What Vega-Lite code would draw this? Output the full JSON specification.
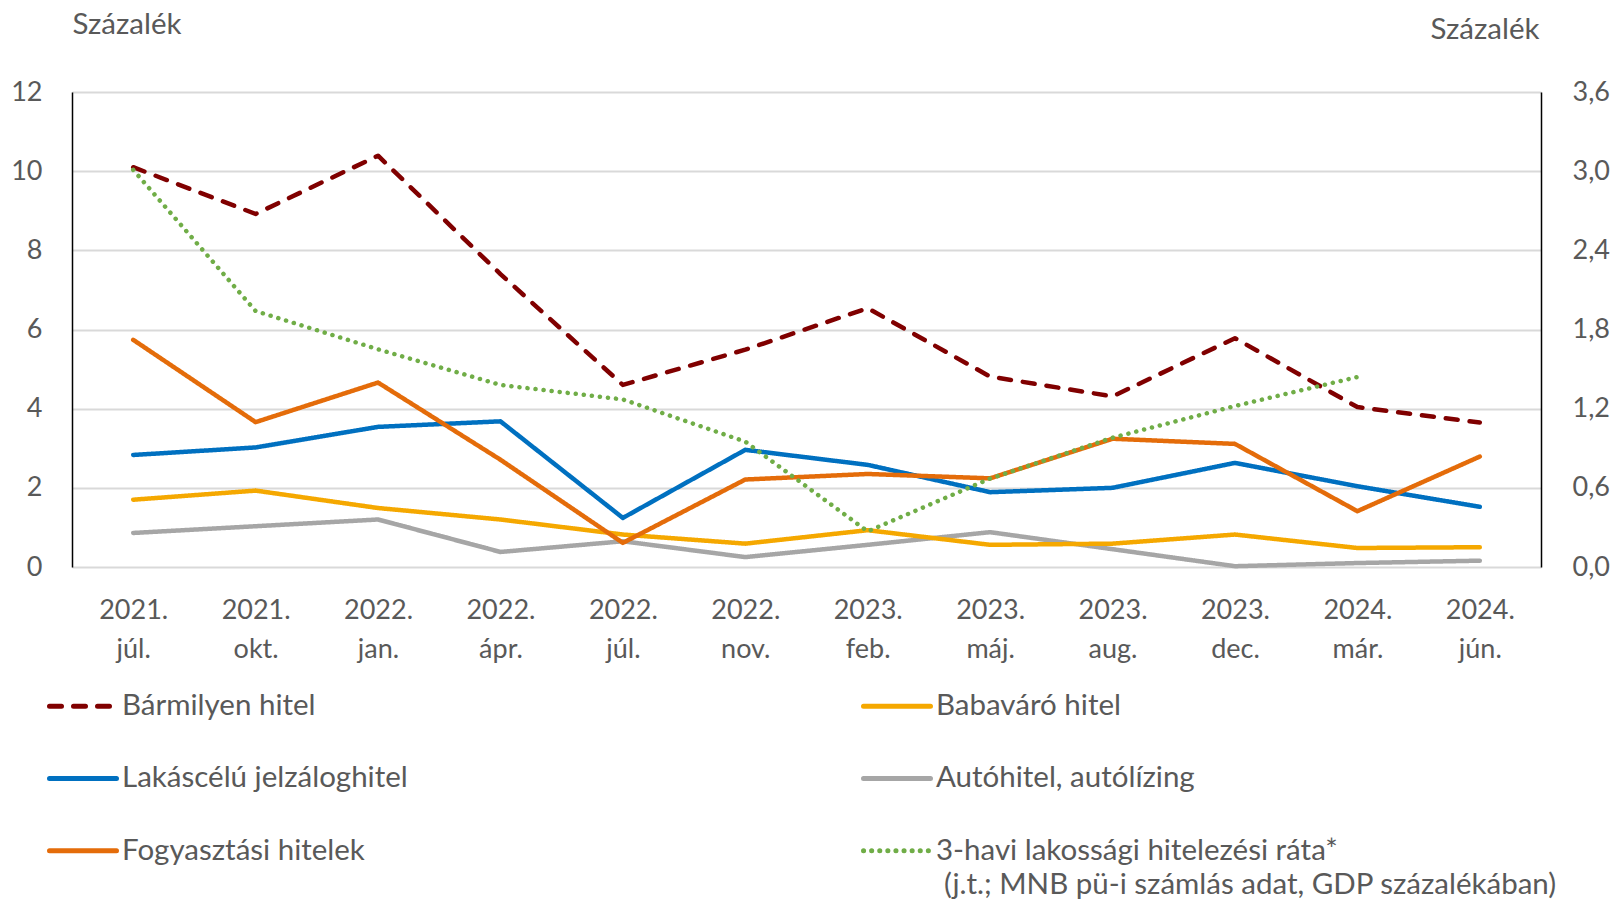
{
  "$schema": "https://vega.github.io/schema/vega-lite/v6.json",
  "width": 1469,
  "height": 475,
  "autosize": {"type": "none"},
  "padding": {"left": 72, "top": 92, "right": 73, "bottom": 335},
  "background": "white",
  "title": {
    "text": "(j.t.; MNB pü-i számlás adat, GDP százalékában)",
    "orient": "bottom",
    "anchor": "start",
    "frame": "group",
    "dx": 872,
    "offset": 5,
    "font": "Lato",
    "fontSize": 29.5,
    "fontWeight": "normal",
    "color": "#595959"
  },
  "config": {
    "view": {"stroke": null},
    "axis": {
      "labelFont": "Lato",
      "labelFontSize": 27,
      "labelColor": "#595959",
      "titleFont": "Lato",
      "titleFontSize": 29.5,
      "titleFontWeight": "normal",
      "titleColor": "#595959",
      "ticks": false
    },
    "legend": {
      "orient": "none",
      "legendX": -25,
      "legendY": 578,
      "columns": 2,
      "columnPadding": 445,
      "rowPadding": 21.4,
      "symbolType": "stroke",
      "symbolSize": 4489,
      "symbolStrokeWidth": 5,
      "labelFont": "Lato",
      "labelFontSize": 29.5,
      "labelColor": "#595959",
      "labelOffset": 3,
      "labelLimit": 800
    }
  },
  "data": {
    "values": [
      {"date": "2021.|júl.", "series": "Autóhitel, autólízing", "value": 0.86},
      {"date": "2021.|okt.", "series": "Autóhitel, autólízing", "value": 1.03},
      {"date": "2022.|jan.", "series": "Autóhitel, autólízing", "value": 1.2},
      {"date": "2022.|ápr.", "series": "Autóhitel, autólízing", "value": 0.38},
      {"date": "2022.|júl.", "series": "Autóhitel, autólízing", "value": 0.65},
      {"date": "2022.|nov.", "series": "Autóhitel, autólízing", "value": 0.25},
      {"date": "2023.|feb.", "series": "Autóhitel, autólízing", "value": 0.56},
      {"date": "2023.|máj.", "series": "Autóhitel, autólízing", "value": 0.88},
      {"date": "2023.|aug.", "series": "Autóhitel, autólízing", "value": 0.45},
      {"date": "2023.|dec.", "series": "Autóhitel, autólízing", "value": 0.02},
      {"date": "2024.|már.", "series": "Autóhitel, autólízing", "value": 0.1},
      {"date": "2024.|jún.", "series": "Autóhitel, autólízing", "value": 0.16},

      {"date": "2021.|júl.", "series": "Babaváró hitel", "value": 1.7},
      {"date": "2021.|okt.", "series": "Babaváró hitel", "value": 1.93},
      {"date": "2022.|jan.", "series": "Babaváró hitel", "value": 1.49},
      {"date": "2022.|ápr.", "series": "Babaváró hitel", "value": 1.2},
      {"date": "2022.|júl.", "series": "Babaváró hitel", "value": 0.82},
      {"date": "2022.|nov.", "series": "Babaváró hitel", "value": 0.59},
      {"date": "2023.|feb.", "series": "Babaváró hitel", "value": 0.93},
      {"date": "2023.|máj.", "series": "Babaváró hitel", "value": 0.56},
      {"date": "2023.|aug.", "series": "Babaváró hitel", "value": 0.59},
      {"date": "2023.|dec.", "series": "Babaváró hitel", "value": 0.82},
      {"date": "2024.|már.", "series": "Babaváró hitel", "value": 0.48},
      {"date": "2024.|jún.", "series": "Babaváró hitel", "value": 0.5},

      {"date": "2021.|júl.", "series": "Lakáscélú jelzáloghitel", "value": 2.83},
      {"date": "2021.|okt.", "series": "Lakáscélú jelzáloghitel", "value": 3.02},
      {"date": "2022.|jan.", "series": "Lakáscélú jelzáloghitel", "value": 3.54},
      {"date": "2022.|ápr.", "series": "Lakáscélú jelzáloghitel", "value": 3.68},
      {"date": "2022.|júl.", "series": "Lakáscélú jelzáloghitel", "value": 1.24},
      {"date": "2022.|nov.", "series": "Lakáscélú jelzáloghitel", "value": 2.96},
      {"date": "2023.|feb.", "series": "Lakáscélú jelzáloghitel", "value": 2.58},
      {"date": "2023.|máj.", "series": "Lakáscélú jelzáloghitel", "value": 1.89},
      {"date": "2023.|aug.", "series": "Lakáscélú jelzáloghitel", "value": 2.0},
      {"date": "2023.|dec.", "series": "Lakáscélú jelzáloghitel", "value": 2.63},
      {"date": "2024.|már.", "series": "Lakáscélú jelzáloghitel", "value": 2.04},
      {"date": "2024.|jún.", "series": "Lakáscélú jelzáloghitel", "value": 1.52},

      {"date": "2021.|júl.", "series": "Fogyasztási hitelek", "value": 5.74},
      {"date": "2021.|okt.", "series": "Fogyasztási hitelek", "value": 3.66},
      {"date": "2022.|jan.", "series": "Fogyasztási hitelek", "value": 4.66},
      {"date": "2022.|ápr.", "series": "Fogyasztási hitelek", "value": 2.71},
      {"date": "2022.|júl.", "series": "Fogyasztási hitelek", "value": 0.61},
      {"date": "2022.|nov.", "series": "Fogyasztási hitelek", "value": 2.21},
      {"date": "2023.|feb.", "series": "Fogyasztási hitelek", "value": 2.35},
      {"date": "2023.|máj.", "series": "Fogyasztási hitelek", "value": 2.24},
      {"date": "2023.|aug.", "series": "Fogyasztási hitelek", "value": 3.24},
      {"date": "2023.|dec.", "series": "Fogyasztási hitelek", "value": 3.11},
      {"date": "2024.|már.", "series": "Fogyasztási hitelek", "value": 1.41},
      {"date": "2024.|jún.", "series": "Fogyasztási hitelek", "value": 2.79},

      {"date": "2021.|júl.", "series": "Bármilyen hitel", "value": 10.1},
      {"date": "2021.|okt.", "series": "Bármilyen hitel", "value": 8.92},
      {"date": "2022.|jan.", "series": "Bármilyen hitel", "value": 10.39},
      {"date": "2022.|ápr.", "series": "Bármilyen hitel", "value": 7.4},
      {"date": "2022.|júl.", "series": "Bármilyen hitel", "value": 4.6},
      {"date": "2022.|nov.", "series": "Bármilyen hitel", "value": 5.49},
      {"date": "2023.|feb.", "series": "Bármilyen hitel", "value": 6.54},
      {"date": "2023.|máj.", "series": "Bármilyen hitel", "value": 4.81},
      {"date": "2023.|aug.", "series": "Bármilyen hitel", "value": 4.31},
      {"date": "2023.|dec.", "series": "Bármilyen hitel", "value": 5.78},
      {"date": "2024.|már.", "series": "Bármilyen hitel", "value": 4.04},
      {"date": "2024.|jún.", "series": "Bármilyen hitel", "value": 3.65},

      {"date": "2021.|júl.", "series": "3-havi lakossági hitelezési ráta*", "value": 3.01},
      {"date": "2021.|okt.", "series": "3-havi lakossági hitelezési ráta*", "value": 1.94},
      {"date": "2022.|jan.", "series": "3-havi lakossági hitelezési ráta*", "value": 1.65},
      {"date": "2022.|ápr.", "series": "3-havi lakossági hitelezési ráta*", "value": 1.38},
      {"date": "2022.|júl.", "series": "3-havi lakossági hitelezési ráta*", "value": 1.27},
      {"date": "2022.|nov.", "series": "3-havi lakossági hitelezési ráta*", "value": 0.95},
      {"date": "2023.|feb.", "series": "3-havi lakossági hitelezési ráta*", "value": 0.27},
      {"date": "2023.|máj.", "series": "3-havi lakossági hitelezési ráta*", "value": 0.67},
      {"date": "2023.|aug.", "series": "3-havi lakossági hitelezési ráta*", "value": 0.98},
      {"date": "2023.|dec.", "series": "3-havi lakossági hitelezési ráta*", "value": 1.22},
      {"date": "2024.|már.", "series": "3-havi lakossági hitelezési ráta*", "value": 1.44}
    ]
  },
  "encoding": {
    "x": {
      "field": "date",
      "type": "ordinal",
      "title": null,
      "scale": {
        "type": "point",
        "padding": 0.5,
        "domain": ["2021.|júl.", "2021.|okt.", "2022.|jan.", "2022.|ápr.", "2022.|júl.", "2022.|nov.", "2023.|feb.", "2023.|máj.", "2023.|aug.", "2023.|dec.", "2024.|már.", "2024.|jún."]
      },
      "axis": {
        "domain": false,
        "grid": false,
        "labelAngle": 0,
        "labelPadding": 30,
        "labelBaseline": "top",
        "labelLineHeight": 39,
        "labelExpr": "split(datum.value, '|')"
      }
    },
    "color": {
      "field": "series",
      "type": "nominal",
      "title": null,
      "scale": {
        "domain": ["Bármilyen hitel", "Lakáscélú jelzáloghitel", "Fogyasztási hitelek", "Babaváró hitel", "Autóhitel, autólízing", "3-havi lakossági hitelezési ráta*"],
        "range": ["#800000", "#0070C0", "#E46C0A", "#F5A800", "#A6A6A6", "#70AD47"]
      },
      "legend": {
        "encode": {"symbols": {"update": {"strokeCap": {"value": "round"}}}}
      }
    },
    "strokeDash": {
      "field": "series",
      "type": "nominal",
      "title": null,
      "scale": {
        "domain": ["Bármilyen hitel", "Lakáscélú jelzáloghitel", "Fogyasztási hitelek", "Babaváró hitel", "Autóhitel, autólízing", "3-havi lakossági hitelezési ráta*"],
        "range": [[12, 12], [1, 0], [1, 0], [1, 0], [1, 0], [0.1, 8]]
      }
    }
  },
  "layer": [
    {
      "transform": [{"filter": "datum.series !== '3-havi lakossági hitelezési ráta*'"}],
      "mark": {"type": "line", "strokeWidth": 4.5, "strokeCap": "round", "strokeJoin": "round"},
      "encoding": {
        "y": {
          "field": "value",
          "type": "quantitative",
          "scale": {"domain": [0, 12], "nice": false},
          "axis": {
            "orient": "left",
            "values": [0, 2, 4, 6, 8, 10, 12],
            "grid": true,
            "gridColor": "#d9d9d9",
            "gridWidth": 2,
            "domain": true,
            "domainColor": "#000000",
            "domainWidth": 1.5,
            "labelPadding": 30,
            "title": "Százalék",
            "titleAngle": 0,
            "titleAlign": "left",
            "titleBaseline": "middle",
            "titleX": 0,
            "titleY": -68
          }
        }
      }
    },
    {
      "transform": [{"filter": "datum.series === '3-havi lakossági hitelezési ráta*'"}],
      "mark": {"type": "line", "strokeWidth": 4.5, "strokeCap": "round", "strokeJoin": "round"},
      "encoding": {
        "y": {
          "field": "value",
          "type": "quantitative",
          "scale": {"domain": [0, 3.6], "nice": false},
          "axis": {
            "orient": "right",
            "values": [0, 0.6, 1.2, 1.8, 2.4, 3.0, 3.6],
            "grid": false,
            "domain": true,
            "domainColor": "#000000",
            "domainWidth": 1.5,
            "labelPadding": 31,
            "labelExpr": "replace(format(datum.value, '.1f'), '.', ',')",
            "title": "Százalék",
            "titleAngle": 0,
            "titleAlign": "right",
            "titleBaseline": "middle",
            "titleX": -2,
            "titleY": -63
          }
        }
      }
    }
  ],
  "resolve": {"scale": {"y": "independent"}}
}
